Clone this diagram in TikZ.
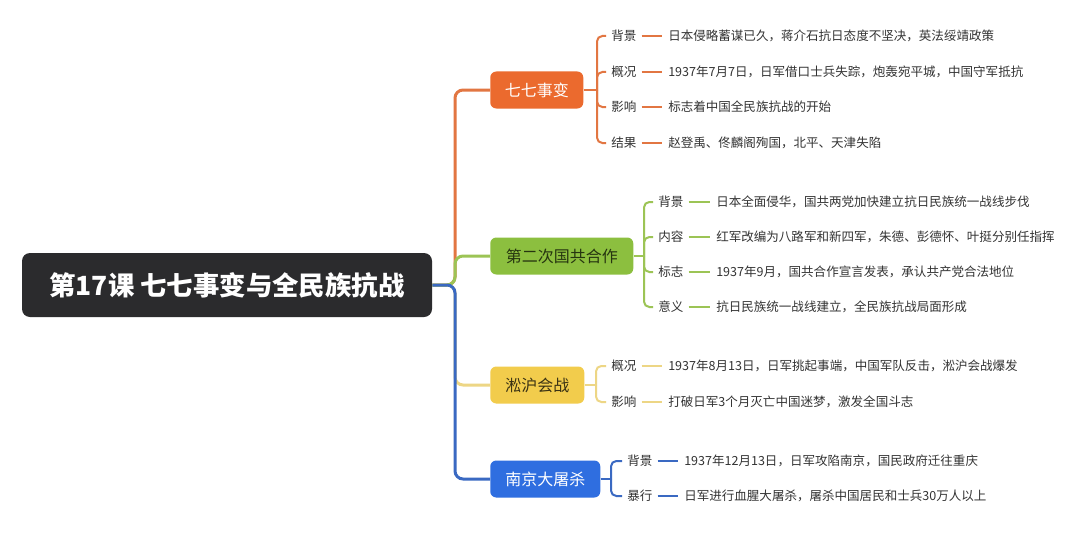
\documentclass[tikz,border=0pt]{standalone}
\usepackage{fontspec}
\setmainfont{Noto Sans CJK SC}
\definecolor{cO}{HTML}{EB6A2E}
\definecolor{cOl}{HTML}{E27642}
\definecolor{cG}{HTML}{8CBF3F}
\definecolor{cGl}{HTML}{9CC455}
\definecolor{cGt}{HTML}{263510}
\definecolor{cY}{HTML}{F2CC4C}
\definecolor{cYl}{HTML}{EDD685}
\definecolor{cYt}{HTML}{3A3214}
\definecolor{cB}{HTML}{2F6EE0}
\definecolor{cBl}{HTML}{3A69C2}
\definecolor{cR}{HTML}{2B2B2D}
\definecolor{txt}{HTML}{333333}
\begin{document}
\begin{tikzpicture}[x=0.75pt,y=-0.75pt,
  mainbox/.style={rounded corners=4.5pt, minimum height=27.75pt, inner sep=0pt, anchor=west, font=\fontsize{12}{14}\selectfont},
  lab/.style={anchor=west, inner xsep=3.75pt, inner ysep=0pt, text=txt, font=\fontsize{9.4}{11}\selectfont},
  desc/.style={anchor=west, inner xsep=4.5pt, inner ysep=0pt, text=txt, font=\fontsize{9.4}{11}\selectfont},
  trunk/.style={line width=2.25pt, rounded corners=6pt},
  brk/.style={line width=1.5pt, rounded corners=4pt},
  dsh/.style={line width=1.5pt}]
\useasboundingbox (0,0) rectangle (1080,535);
\fill[white] (0,0) rectangle (1080,535);

% root
\node[fill=cR, text=white, rounded corners=6pt, minimum width=307.5pt, minimum height=48pt, inner sep=0pt,
  font=\fontsize{19.8}{22}\selectfont\bfseries] (root) at (227,285) {第17课 七七事变与全民族抗战};

% main boxes
\node[mainbox, fill=cO, text=white, minimum width=69.75pt] (b1) at (490,90) {七七事变};
\node[mainbox, fill=cG, text=cGt, minimum width=107.25pt] (b2) at (490,256) {第二次国共合作};
\node[mainbox, fill=cY, text=cYt, minimum width=70.5pt] (b3) at (490,385) {淞沪会战};
\node[mainbox, fill=cB, text=white, minimum width=82.5pt] (b4) at (490,479) {南京大屠杀};

\coordinate (hub) at (455,285);
\draw[trunk, cOl] (root.east) -- (hub) |- (b1.west);
\draw[trunk, cYl] (root.east) -- (hub) |- (b3.west);
\draw[trunk, cGl] (root.east) -- (hub) |- (b2.west);
\draw[trunk, cBl] (root.east) -- (hub) |- (b4.west);

% group 1
\coordinate (k1) at (597,90);
\node[lab] (l11) at (606,36) {背景};
\node[lab] (l12) at (606,72) {概况};
\node[lab] (l13) at (606,107) {影响};
\node[lab] (l14) at (606,143) {结果};
\node[desc] (d11) at (662,36) {日本侵略蓄谋已久，蒋介石抗日态度不坚决，英法绥靖政策};
\node[desc] (d12) at (662,72) {1937年7月7日，日军借口士兵失踪，炮轰宛平城，中国守军抵抗};
\node[desc] (d13) at (662,107) {标志着中国全民族抗战的开始};
\node[desc] (d14) at (662,143) {赵登禹、佟麟阁殉国，北平、天津失陷};
\draw[brk, cOl] (b1.east) -- (k1);
\foreach \i in {1,...,4}{
  \draw[brk, cOl] (k1) |- (l1\i.west);
  \draw[dsh, cOl] (l1\i.east) -- (d1\i.west);
}

% group 2
\coordinate (k2) at (644,256);
\node[lab] (l21) at (653,202) {背景};
\node[lab] (l22) at (653,237) {内容};
\node[lab] (l23) at (653,272) {标志};
\node[lab] (l24) at (653,307) {意义};
\node[desc] (d21) at (710,202) {日本全面侵华，国共两党加快建立抗日民族统一战线步伐};
\node[desc] (d22) at (710,237) {红军改编为八路军和新四军，朱德、彭德怀、叶挺分别任指挥};
\node[desc] (d23) at (710,272) {1937年9月，国共合作宣言发表，承认共产党合法地位};
\node[desc] (d24) at (710,307) {抗日民族统一战线建立，全民族抗战局面形成};
\draw[brk, cGl] (b2.east) -- (k2);
\foreach \i in {1,...,4}{
  \draw[brk, cGl] (k2) |- (l2\i.west);
  \draw[dsh, cGl] (l2\i.east) -- (d2\i.west);
}

% group 3
\coordinate (k3) at (596,385);
\node[lab] (l31) at (606,366) {概况};
\node[lab] (l32) at (606,402) {影响};
\node[desc] (d31) at (662,366) {1937年8月13日，日军挑起事端，中国军队反击，淞沪会战爆发};
\node[desc] (d32) at (662,402) {打破日军3个月灭亡中国迷梦，激发全国斗志};
\draw[brk, cYl] (b3.east) -- (k3);
\foreach \i in {1,2}{
  \draw[brk, cYl] (k3) |- (l3\i.west);
  \draw[dsh, cYl] (l3\i.east) -- (d3\i.west);
}

% group 4
\coordinate (k4) at (611,479);
\node[lab] (l41) at (622,461) {背景};
\node[lab] (l42) at (622,496) {暴行};
\node[desc] (d41) at (678,461) {1937年12月13日，日军攻陷南京，国民政府迁往重庆};
\node[desc] (d42) at (678,496) {日军进行血腥大屠杀，屠杀中国居民和士兵30万人以上};
\draw[brk, cBl] (b4.east) -- (k4);
\foreach \i in {1,2}{
  \draw[brk, cBl] (k4) |- (l4\i.west);
  \draw[dsh, cBl] (l4\i.east) -- (d4\i.west);
}
\end{tikzpicture}
\end{document}
